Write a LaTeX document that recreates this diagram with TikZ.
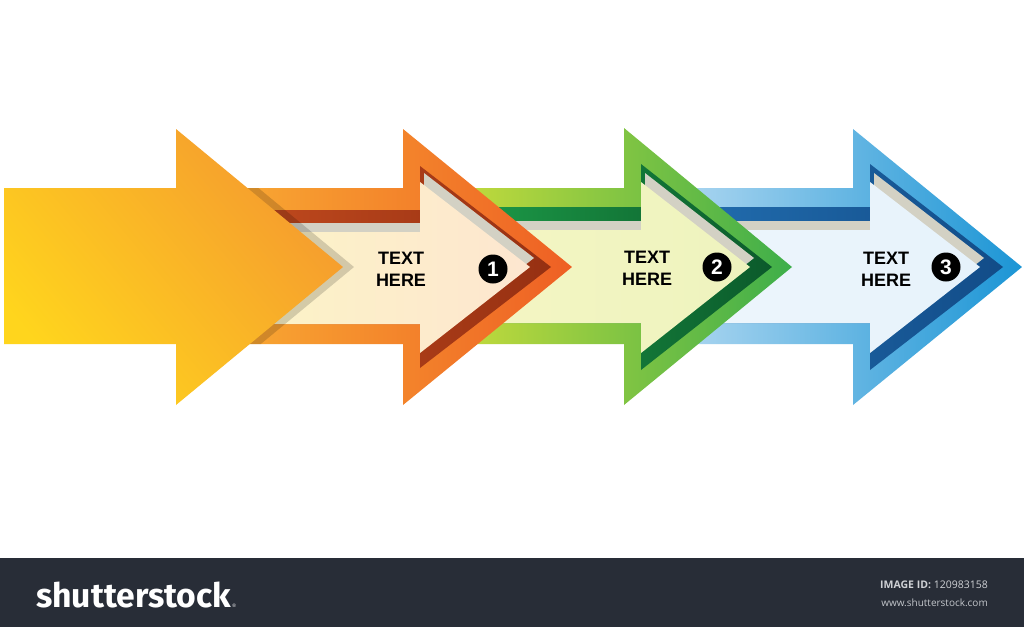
\documentclass[tikz,border=0pt]{standalone}
\usepackage{fontspec}
\setmainfont{Liberation Sans}
\newfontfamily\logofont{Fira Sans}
\newfontfamily\smallfont{Open Sans}
\usepackage{graphicx}
\definecolor{yelA}{HTML}{FFD51D}
\definecolor{yelB}{HTML}{F59A2F}
\definecolor{orOL}{HTML}{F9AC33}
\definecolor{orOR}{HTML}{EE5F24}
\definecolor{orDL}{HTML}{C44C1F}
\definecolor{orDR}{HTML}{963012}
\definecolor{orCL}{HTML}{FCF5C5}
\definecolor{orCR}{HTML}{FDE6D0}
\definecolor{grOL}{HTML}{CBDD3B}
\definecolor{grOR}{HTML}{3DAE4A}
\definecolor{grDL}{HTML}{1EA04A}
\definecolor{grDR}{HTML}{0B5A2B}
\definecolor{grCL}{HTML}{F5F6C4}
\definecolor{grCR}{HTML}{EEF3BE}
\definecolor{blOL}{HTML}{B5DAF2}
\definecolor{blOR}{HTML}{1B95D5}
\definecolor{blDL}{HTML}{2370B2}
\definecolor{blDR}{HTML}{124C88}
\definecolor{blCL}{HTML}{EEF6FC}
\definecolor{blCR}{HTML}{E6F2FB}
\definecolor{shadowgray}{HTML}{D3D1C4}
\definecolor{barcol}{HTML}{282D37}
\definecolor{urlgray}{HTML}{C3C6CB}
% L, shaft top, head x, head top, tip x, head bottom, shaft bottom
\newcommand\arrowshape[7]{(#1,#2) -- (#3,#2) -- (#3,#4) -- (#5,267) -- (#3,#6) -- (#3,#7) -- (#1,#7) -- cycle}
\tikzset{
  label text/.style={font=\bfseries\fontsize{18}{22}\selectfont, align=center, text=black, inner sep=0pt},
  numdisc/.style={circle, fill=black, minimum size=29pt, inner sep=0pt, text=white, font=\bfseries\fontsize{21}{21}\selectfont},
}
\begin{document}
\begin{tikzpicture}[x=1pt,y=-1pt]
\useasboundingbox (0,0) rectangle (1024,627);
\fill[white] (0,0) rectangle (1024,627);

% ---- arrow 3 (blue)
\shade[left color=blOL, right color=blOR] \arrowshape{660}{188}{853}{129}{1022}{405}{344};
\shade[left color=blDL, right color=blDR] \arrowshape{660}{207}{870}{164}{1003}{370}{323};
\fill[shadowgray, shift={(4,-9)}] \arrowshape{660}{230}{870}{182}{980}{353}{323};
\shade[left color=blCL, right color=blCR] \arrowshape{660}{230}{870}{182}{980}{353}{323};

% ---- arrow 2 (green)
\shade[left color=grOL, right color=grOR] \arrowshape{440}{188}{624}{128}{792}{405}{344};
\shade[left color=grDL, right color=grDR] \arrowshape{440}{207}{641}{164}{772}{370}{323};
\fill[shadowgray, shift={(4,-9)}] \arrowshape{440}{230}{641}{182}{750}{353}{323};
\shade[left color=grCL, right color=grCR] \arrowshape{440}{230}{641}{182}{750}{353}{323};

% ---- arrow 1 (orange)
\shade[left color=orOL, right color=orOR] \arrowshape{220}{188}{403}{129}{572}{405}{344};
\shade[left color=orDL, right color=orDR] \arrowshape{220}{210}{420}{166}{551}{368}{324};
\fill[shadowgray, shift={(4,-9)}] \arrowshape{220}{232}{420}{182}{530}{353}{324};
\shade[left color=orCL, right color=orCR] \arrowshape{220}{232}{420}{182}{530}{353}{324};

% ---- big yellow arrow with its shadow (shadow only falls on arrow 1)
\begin{scope}
  \clip \arrowshape{220}{188}{403}{129}{572}{405}{344};
  \fill[black, opacity=0.16, shift={(11,0)}] \arrowshape{4}{188}{176}{129}{343}{405}{344};
\end{scope}
\shade[top color=yelB, bottom color=yelA, shading angle=-50] \arrowshape{4}{188}{176}{129}{343}{405}{344};

% ---- labels
\node[label text] (t1) at (401,269) {TEXT\\HERE};
\node[label text] (t2) at (647,268) {TEXT\\HERE};
\node[label text] (t3) at (886,269) {TEXT\\HERE};
\node[numdisc] (n1) at (493,269) {1};
\node[numdisc] (n2) at (717,267) {2};
\node[numdisc] (n3) at (946,267) {3};

% ---- footer bar
\fill[barcol] (0,558) rectangle (1024,627);
\node[anchor=base west, inner sep=0pt, text=white] (logo) at (36,607)
  {\resizebox{195pt}{!}{\logofont\bfseries\fontsize{30}{30}\selectfont shutterstock}};
\node[anchor=base west, inner sep=0pt, text=white, font=\fontsize{5}{5}\selectfont] (reg) at (logo.base east) {\,®};
\node[anchor=base east, inner sep=0pt, text=urlgray!80!white, font=\smallfont\fontsize{10.5}{11}\selectfont] (imgid) at (988,588)
  {\textbf{IMAGE ID:} 120983158};
\node[anchor=base east, inner sep=0pt, text=urlgray, font=\smallfont\fontsize{10}{11}\selectfont] (url) at (988,606)
  {www.shutterstock.com};
\end{tikzpicture}
\end{document}
